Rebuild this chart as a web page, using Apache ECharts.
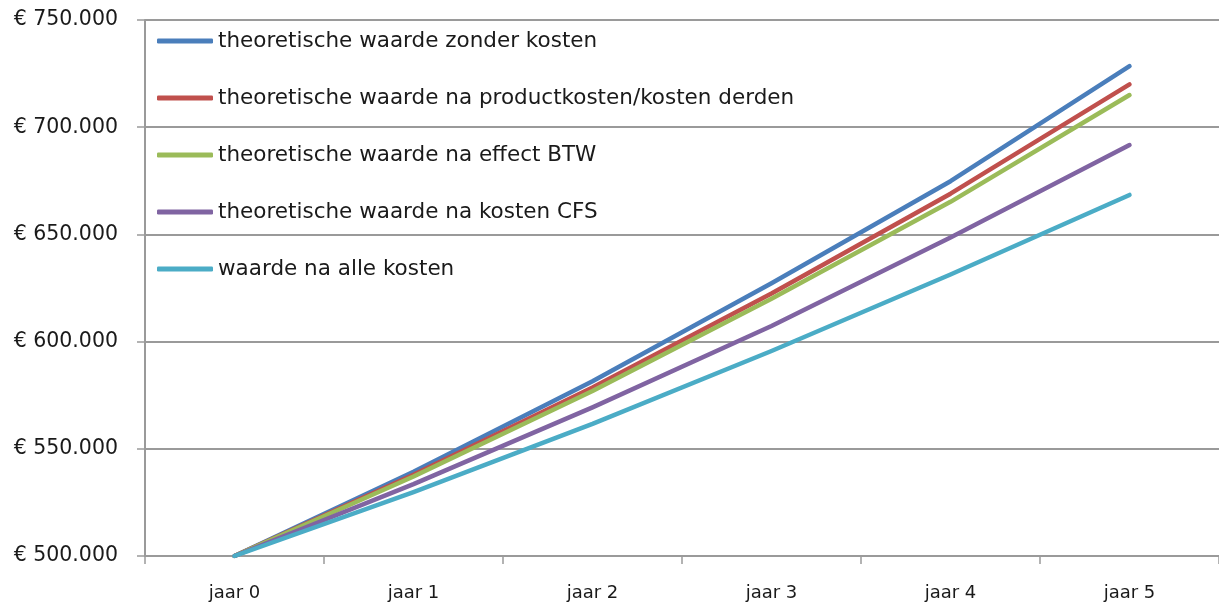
<!DOCTYPE html>
<html>
<head>
<meta charset="utf-8">
<script src="https://cdn.jsdelivr.net/npm/echarts@6/dist/echarts.min.js"></script>
<style>
  html, body { margin: 0; padding: 0; background: #fff; }
  #chart { width: 1219px; height: 605px; }
</style>
</head>
<body>
<div id="chart"></div>
<script>
var jaren = ['jaar 0', 'jaar 1', 'jaar 2', 'jaar 3', 'jaar 4', 'jaar 5'];

var zonderKosten = [500000, 539300, 581500, 627200, 674800, 728500];
var naProductkosten = [500000, 537900, 578600, 622400, 669000, 720000];
var naBtw = [500000, 537100, 577000, 620000, 665200, 715000];
var naKostenCfs = [500000, 533500, 569300, 607300, 648600, 691700];
var naAlleKosten = [500000, 529800, 561600, 595600, 631300, 668400];

var namen = [
    'theoretische waarde zonder kosten',
    'theoretische waarde na productkosten/kosten derden',
    'theoretische waarde na effect BTW',
    'theoretische waarde na kosten CFS',
    'waarde na alle kosten'
];
var kleuren = ['#4a7ebb', '#c0504d', '#9bbb59', '#8064a2', '#4bacc6'];
var reeksen = [zonderKosten, naProductkosten, naBtw, naKostenCfs, naAlleKosten];

var myChart = echarts.init(document.getElementById('chart'));

function euro(v) {
    return '€ ' + String(v).replace(/\B(?=(\d{3})+(?!\d))/g, '.');
}

var series = reeksen.map(function (d, i) {
    return {
        name: namen[i],
        type: 'line',
        data: d,
        symbol: 'none',
        silent: true,
        animation: false,
        lineStyle: {
            width: 4.5,
            color: kleuren[i],
            cap: 'round',
            join: 'round'
        },
        itemStyle: { color: kleuren[i] }
    };
});

var option = {
    backgroundColor: '#ffffff',
    textStyle: { fontFamily: 'DejaVu Sans' },
    grid: {
        left: 145,
        right: -2,
        top: 20,
        bottom: 49
    },
    legend: {
        orient: 'vertical',
        left: 152,
        top: 25,
        itemWidth: 56,
        itemHeight: 5,
        itemGap: 35,
        icon: 'roundRect',
        textStyle: {
            fontFamily: 'DejaVu Sans',
            fontSize: 21.5,
            color: '#1a1a1a'
        },
        data: namen
    },
    xAxis: {
        type: 'category',
        data: jaren,
        boundaryGap: true,
        axisLine: { lineStyle: { color: '#9a9a9a', width: 2 } },
        axisTick: { show: true, length: 8, lineStyle: { color: '#9a9a9a', width: 1.5 } },
        axisLabel: {
            color: '#1a1a1a',
            fontSize: 18,
            fontFamily: 'DejaVu Sans',
            margin: 28
        }
    },
    yAxis: {
        type: 'value',
        min: 500000,
        max: 750000,
        interval: 50000,
        axisLine: { show: true, lineStyle: { color: '#9a9a9a', width: 2 } },
        axisTick: { show: true, length: 8, lineStyle: { color: '#9a9a9a', width: 1.5 } },
        splitLine: { lineStyle: { color: '#9a9a9a', width: 2 } },
        axisLabel: {
            color: '#1a1a1a',
            fontSize: 20.5,
            fontFamily: 'DejaVu Sans',
            margin: 27,
            formatter: euro
        }
    },
    series: series
};

myChart.setOption(option);
</script>
</body>
</html>
